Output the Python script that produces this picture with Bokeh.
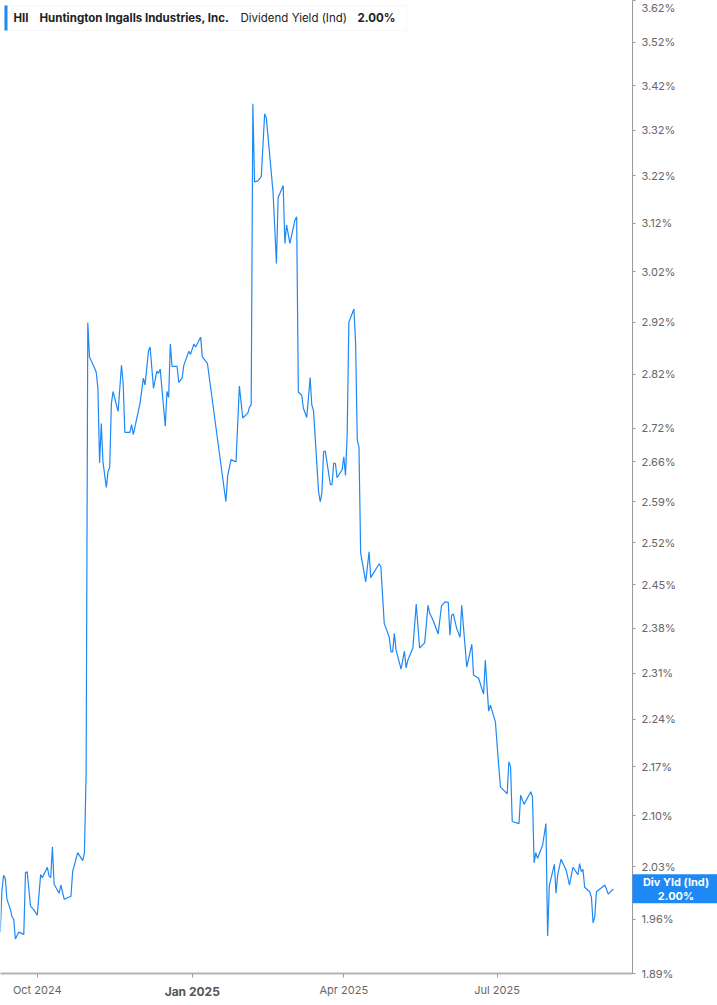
import math
import pandas as pd
from bokeh.plotting import figure
from bokeh.models import (Range1d, FixedTicker, PrintfTickFormatter, CustomJSTickFormatter,
                          Label, BoxAnnotation)
from bokeh.core.properties import value
from bokeh.embed import file_html
from bokeh.resources import INLINE

# ---------------- data ----------------
base_date = "2024-10-01"
day_offsets = [-22, -21, -20, -19, -18, -16, -15, -14, -13, -11, -8, -7, -6, -4, -2, 0, 2, 3, 6, 7,
               8, 9, 10, 13, 14, 16, 20, 21, 24, 27, 28, 29, 30, 31, 34, 35, 36, 37, 38, 39,
               41, 42, 43, 44, 45, 48, 50, 51, 52, 55, 56, 57, 61, 63, 64, 66, 67, 69, 71, 72,
               73, 76, 77, 78, 79, 80, 83, 84, 86, 87, 90, 91, 93, 94, 97, 98, 100, 101, 106, 112,
               113, 115, 118, 120, 122, 125, 126, 127, 128, 129, 131, 133, 135, 136, 140, 142, 143, 146, 147, 148,
               150, 153, 154, 155, 157, 158, 160, 162, 163, 164, 167, 168, 169, 170, 171, 174, 175, 176, 177, 178,
               181, 182, 183, 184, 185, 188, 189, 190, 191, 192, 195, 197, 198, 203, 204, 206, 209, 210, 211, 212,
               213, 216, 218, 219, 220, 223, 225, 227, 230, 232, 233, 235, 238, 240, 242, 244, 245, 246, 247, 249,
               251, 252, 255, 258, 259, 262, 265, 266, 268, 269, 272, 274, 275, 279, 280, 281, 282, 286, 287, 289,
               293, 294, 295, 296, 297, 300, 302, 303, 304, 307, 308, 309, 311, 314, 316, 318, 321, 322, 323, 324,
               325, 328, 329, 330, 331, 332, 337, 339, 342]
div_yield = [1.943, 1.997, 2.018, 2.014, 1.986, 1.973, 1.963, 1.960, 1.934, 1.943, 1.940, 2.022, 2.023, 1.977, 1.972, 1.965, 2.019, 2.015, 2.029, 2.017,
             2.015, 2.057, 2.006, 1.994, 2.005, 1.986, 1.990, 2.023, 2.049, 2.038, 2.049, 2.159, 2.919, 2.853, 2.832, 2.824, 2.794, 2.658, 2.729, 2.660,
             2.615, 2.643, 2.650, 2.766, 2.788, 2.751, 2.837, 2.803, 2.713, 2.713, 2.727, 2.709, 2.766, 2.813, 2.800, 2.864, 2.872, 2.794, 2.826, 2.822,
             2.830, 2.724, 2.788, 2.777, 2.878, 2.835, 2.835, 2.805, 2.813, 2.837, 2.864, 2.858, 2.878, 2.872, 2.891, 2.853, 2.845, 2.841, 2.724, 2.590,
             2.634, 2.664, 2.660, 2.798, 2.739, 2.748, 2.759, 2.763, 3.379, 3.207, 3.209, 3.218, 3.356, 3.347, 3.184, 3.037, 3.173, 3.199, 3.078, 3.116,
             3.078, 3.126, 3.133, 2.787, 2.781, 2.757, 2.740, 2.814, 2.763, 2.753, 2.608, 2.590, 2.606, 2.678, 2.679, 2.620, 2.620, 2.658, 2.657, 2.632,
             2.646, 2.669, 2.636, 2.711, 2.920, 2.946, 2.880, 2.699, 2.686, 2.503, 2.455, 2.505, 2.462, 2.485, 2.480, 2.388, 2.366, 2.343, 2.343, 2.372,
             2.346, 2.316, 2.344, 2.318, 2.330, 2.349, 2.419, 2.349, 2.357, 2.417, 2.404, 2.393, 2.371, 2.416, 2.422, 2.422, 2.369, 2.401, 2.403, 2.380,
             2.366, 2.417, 2.319, 2.355, 2.307, 2.302, 2.278, 2.330, 2.252, 2.261, 2.236, 2.170, 2.141, 2.131, 2.177, 2.170, 2.092, 2.089, 2.129, 2.116,
             2.134, 2.127, 2.035, 2.049, 2.041, 2.059, 2.089, 1.938, 2.004, 2.033, 1.994, 2.019, 2.040, 2.025, 2.005, 2.029, 2.019, 2.034, 2.023, 2.026,
             2.002, 1.996, 1.989, 1.955, 1.963, 1.996, 2.005, 1.993, 2.000]

y_ticks = [1.89, 1.96, 2.03, 2.10, 2.17, 2.24, 2.31, 2.38, 2.45, 2.52, 2.59, 2.66, 2.72,
           2.82, 2.92, 3.02, 3.12, 3.22, 3.32, 3.42, 3.52, 3.62]
x_tick_dates = ["2024-10-01", "2025-01-01", "2025-04-01", "2025-07-01"]
bold_tick_label = "Jan 2025"
bold_tick_date = "2025-01-01"
title_parts = ["HII", "Huntington Ingalls Industries, Inc.", "Dividend Yield (Ind)", "2.00%"]
badge_text = "Div Yld (Ind)\n2.00%"
last_value = 2.00

# ---------------- layout ----------------
FONT = "Inter"
BLUE = "#1e88f5"
W, H = 717, 1005
RB, BB = 85, 32
FW, FH = W - RB, H - BB

base = pd.Timestamp(base_date)
dates = base + pd.to_timedelta(day_offsets, unit="D")
x_start = base - pd.Timedelta(days=21.83)
x_end = base + pd.Timedelta(days=353.4)
x0_ms = x_start.value // 10**6
x1_ms = x_end.value // 10**6
ms_per_px = (x1_ms - x0_ms) / FW
log_px = FH / math.log(y_ticks[-1] / y_ticks[0])

p = figure(width=W, height=H, x_axis_type="datetime", y_axis_type="log",
           y_axis_location="right", title=None,
           x_range=Range1d(x0_ms, x1_ms), y_range=Range1d(y_ticks[0], y_ticks[-1]),
           output_backend="svg", toolbar_location=None,
           min_border_left=0, min_border_top=0,
           min_border_right=RB, min_border_bottom=BB)
p.outline_line_color = None
p.xgrid.visible = False
p.ygrid.visible = False
p.background_fill_color = "white"
p.border_fill_color = "white"

p.line(dates, div_yield, line_color=BLUE, line_width=1.2)

# y axis
yax = p.yaxis[0]
yax.ticker = FixedTicker(ticks=y_ticks, minor_ticks=[])
yax.formatter = PrintfTickFormatter(format="%.2f%%")
yax.axis_line_color = "#9a9a9a"
yax.axis_line_width = 1
yax.major_tick_line_color = "#9a9a9a"
yax.major_tick_in = 0
yax.major_tick_out = 3
yax.minor_tick_line_color = None
yax.major_label_standoff = 6
yax.major_label_text_font = FONT
yax.major_label_text_font_size = "11px"
yax.major_label_text_color = "#666666"

# x axis
xticks_ms = [pd.Timestamp(d).value // 10**6 for d in x_tick_dates]
xax = p.xaxis[0]
xax.ticker = FixedTicker(ticks=xticks_ms, minor_ticks=[])
xax.formatter = CustomJSTickFormatter(code="""
const d = new Date(tick);
const m = d.getUTCMonth();
if (m === 0) { return ""; }
const names = ["Jan","Feb","Mar","Apr","May","Jun","Jul","Aug","Sep","Oct","Nov","Dec"];
return names[m] + " " + d.getUTCFullYear();
""")
xax.axis_line_color = "#b3b3b3"
xax.axis_line_width = 2
xax.major_tick_line_color = "#9a9a9a"
xax.major_tick_in = 0
xax.major_tick_out = 4
xax.minor_tick_line_color = None
xax.major_label_standoff = 5
xax.major_label_text_font = FONT
xax.major_label_text_font_size = "11px"
xax.major_label_text_color = "#666666"

# bold "Jan 2025" tick label (text glyph anchored on the frame edge, offset below)
p.text(x=[pd.Timestamp(bold_tick_date).value // 10**6], y=[y_ticks[0] * 1.0005],
       text=[bold_tick_label], y_offset=19, text_align="center", text_baseline="middle",
       text_font=value(FONT), text_font_size="12px", text_font_style="bold",
       text_color="#555555", level="overlay")

# title box
p.add_layout(BoxAnnotation(left=4, right=406, top=FH - 5, bottom=FH - 30,
                           left_units="screen", right_units="screen",
                           top_units="screen", bottom_units="screen",
                           fill_color="white", fill_alpha=1.0,
                           line_color="#e6e6e6", line_width=1, level="underlay"))
p.add_layout(BoxAnnotation(left=4, right=7, top=FH - 5, bottom=FH - 30,
                           left_units="screen", right_units="screen",
                           top_units="screen", bottom_units="screen",
                           fill_color=BLUE, fill_alpha=1.0, line_color=None, level="underlay"))
title_x = [13, 39, 240, 357]
title_style = ["bold", "bold", "normal", "bold"]
for txt, tx, st in zip(title_parts, title_x, title_style):
    p.add_layout(Label(x=tx, y=FH - 17, x_units="screen", y_units="screen", text=txt,
                       text_align="left", text_baseline="middle", text_font=FONT,
                       text_font_size="11.5px", text_font_style=st, text_color="#222222",
                       level="underlay"))

# last value badge (glyphs anchored at the frame's right edge, drawn over the axis area)
half_h = 14.5 / log_px
p.quad(left=[x1_ms - 1], right=[x1_ms + RB * ms_per_px],
       bottom=[last_value * math.exp(-half_h)], top=[last_value * math.exp(half_h)],
       fill_color=BLUE, line_color=None, level="overlay")
p.text(x=[x1_ms - 1], y=[last_value], text=[badge_text], x_offset=RB / 2 + 1,
       text_align="center", text_baseline="middle", text_font=value(FONT),
       text_font_size="11px", text_font_style="bold", text_color="white",
       text_line_height=1.0, level="overlay")

open("out.html", "w").write(file_html(p, INLINE))
